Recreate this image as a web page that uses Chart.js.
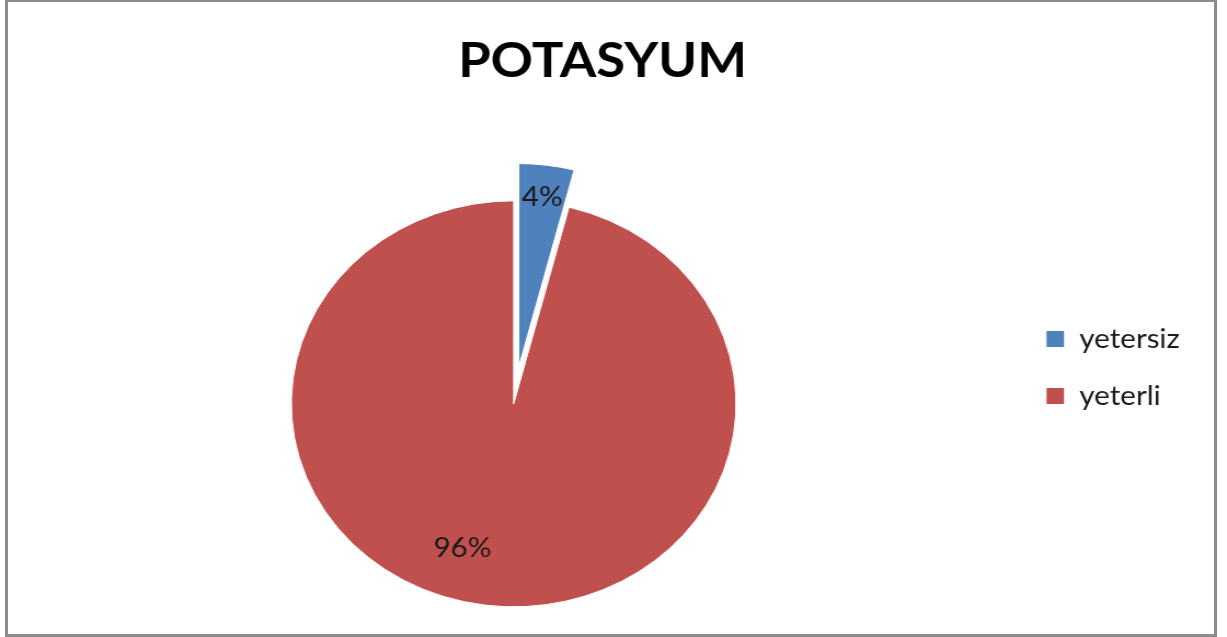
<!DOCTYPE html>
<html>
<head>
<meta charset="utf-8">
<title>POTASYUM</title>
<script src="https://cdn.jsdelivr.net/npm/chart.js@4/dist/chart.umd.min.js"></script>
<style>
  html, body { margin: 0; padding: 0; background: #fff; }
  #page { position: relative; width: 1227px; height: 637px; overflow: hidden; }
  /* chart is laid out at 1120 wide, then stretched to the full 1227 */
  #wrap {
    position: absolute; left: 0; top: 0;
    width: 1120px; height: 637px;
    transform: scaleX(1.0955); transform-origin: 0 0;
  }
  #frame {
    position: absolute; left: 5px; top: -1px;
    width: 1206px; height: 632px;
    border: 3px solid #8c8c8c;
    pointer-events: none;
  }
</style>
</head>
<body>
<div id="page">
  <div id="wrap"><canvas id="myChart"></canvas></div>
  <div id="frame"></div>
</div>
<script>
// Potassium sufficiency split (percent of samples)
const categories = ['yetersiz', 'yeterli'];
const shares = [4, 96];
const sliceColors = ['#4f81bd', '#c0504d'];

// Chart.js grows an exploded slice's radius with its offset and trims its
// angle a little; undo both so the pulled-out slice keeps its true shape.
const keepShape = {
  id: 'keepShape',
  afterDatasetUpdate(chart, args) {
    const meta = args.meta;
    const r = meta.controller.outerRadius;
    meta.data.forEach(arc => {
      const off = (arc.options.offset || 0) / 4;
      if (!off) return;
      const grow = off * (1 - Math.sin(Math.min(Math.PI, arc.circumference)));
      const trim = grow / (2 * Math.PI * r);
      arc.outerRadius = r - grow;
      arc.startAngle -= trim;
      arc.endAngle += trim;
    });
  }
};

// percentage labels inside the slices
const sliceLabels = {
  id: 'sliceLabels',
  afterDatasetsDraw(chart, args, opts) {
    const ctx = chart.ctx;
    const meta = chart.getDatasetMeta(0);
    const r = meta.controller.outerRadius;
    const total = shares.reduce((a, b) => a + b, 0);
    ctx.save();
    ctx.font = opts.font;
    ctx.fillStyle = opts.color;
    ctx.textAlign = 'center';
    ctx.textBaseline = 'middle';
    meta.data.forEach((arc, i) => {
      const off = (arc.options.offset || 0) / 4;
      const mid = (arc.startAngle + arc.endAngle) / 2;
      const a = mid + (opts.turn[i] || 0) * Math.PI / 180;
      const x = arc.x + Math.cos(mid) * off + Math.cos(a) * r * opts.radius[i];
      const y = arc.y + Math.sin(mid) * off + Math.sin(a) * r * opts.radius[i];
      ctx.fillText(Math.round(shares[i] / total * 100) + '%', x, y);
    });
    ctx.restore();
  }
};

const config = {
  type: 'pie',
  data: {
    labels: categories,
    datasets: [{
      data: shares,
      backgroundColor: sliceColors,
      borderColor: '#fff',
      borderWidth: 1,
      offset: [150, 0],
    }]
  },
  options: {
    responsive: true,
    maintainAspectRatio: false,
    animation: false,
    radius: 203,
    layout: { padding: { left: 13, right: 33, top: 0, bottom: 0 } },
    plugins: {
      title: {
        display: true,
        text: 'POTASYUM',
        color: '#000',
        font: { family: 'Lato', size: 48, weight: 'bold', lineHeight: 1.2 },
        padding: { top: 33, bottom: 80 },
      },
      legend: {
        position: 'right',
        title: { display: true, text: '', padding: { top: 98, bottom: 0 }, font: { lineHeight: '0px' } },
        labels: {
          boxWidth: 17,
          boxHeight: 17,
          padding: 30,
          color: '#1a1a1a',
          font: { family: 'Lato', size: 27 },
        },
      },
      tooltip: { enabled: false },
      sliceLabels: {
        font: '27px Lato',
        color: '#1a1a1a',
        radius: [0.84, 0.75],
        turn: [0, 10.7],
      },
    },
  },
  plugins: [keepShape, sliceLabels],
};

const ctx = document.getElementById('myChart').getContext('2d');
const myChart = new Chart(ctx, config);
</script>
</body>
</html>
